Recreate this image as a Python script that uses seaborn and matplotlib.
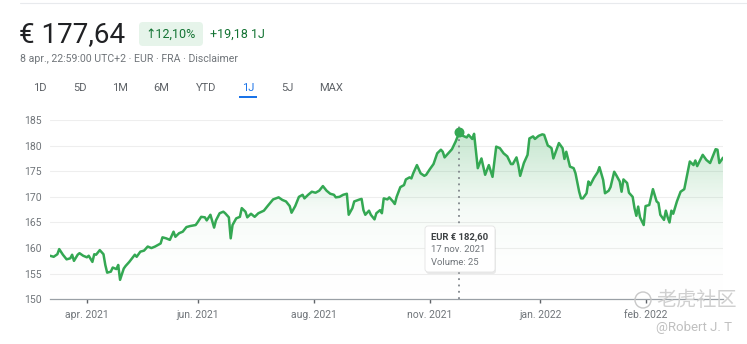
import matplotlib
matplotlib.use("Agg")
import matplotlib.pyplot as plt
import numpy as np
import pandas as pd
import seaborn as sns
from matplotlib.colors import LinearSegmentedColormap
from matplotlib.patches import FancyBboxPatch, Rectangle

# Data: day offset from start, closing price (EUR)
days = [0, 2, 4, 5, 7, 9, 11, 12, 13, 15, 16, 18, 20, 21, 23, 24, 25, 27, 29, 30,
        31, 33, 34, 36, 37, 38, 40, 41, 43, 46, 47, 49, 51, 53, 55, 57, 60, 61, 63, 65,
        67, 68, 70, 72, 74, 76, 79, 80, 82, 84, 85, 87, 89, 90, 92, 94, 95, 97, 98, 99,
        101, 103, 104, 106, 107, 109, 111, 113, 116, 118, 121, 124, 126, 128, 130, 131, 133, 135, 137, 138,
        140, 142, 144, 146, 148, 150, 152, 154, 155, 157, 159, 161, 162, 164, 165, 168, 169, 170, 171, 173,
        174, 176, 177, 179, 180, 181, 183, 184, 186, 187, 188, 190, 192, 193, 195, 196, 197, 199, 201, 203,
        204, 206, 208, 210, 212, 213, 214, 216, 218, 220, 222, 224, 226, 227, 229, 230, 232, 234, 236, 238,
        240, 242, 244, 246, 248, 250, 251, 253, 254, 255, 257, 259, 260, 262, 263, 265, 267, 268, 270, 271,
        272, 273, 275, 276, 278, 279, 280, 282, 284, 285, 287, 288, 289, 291, 292, 293, 295, 297, 298, 300,
        301, 303, 304, 306, 307, 309, 310, 311, 313, 314, 316, 317, 318, 319, 320, 322, 323, 325, 327, 329,
        330, 331, 333, 334, 335, 336, 337, 338, 340, 342, 344, 345, 347, 349, 350, 351, 353, 354, 356, 358,
        359, 361, 362, 363, 364, 365]
prices = [158.5, 158.3, 158.8, 159.8, 158.7, 157.8, 158.0, 158.7, 157.5, 158.7, 159.0, 158.5, 158.2, 158.5, 157.3, 158.8, 158.7, 159.6, 158.8, 156.7,
          155.2, 155.4, 156.2, 155.9, 156.7, 153.8, 156.0, 156.5, 157.3, 158.7, 158.3, 159.3, 159.5, 160.3, 160.0, 160.3, 160.9, 162.1, 161.9, 161.6,
          163.2, 162.2, 162.9, 163.2, 164.1, 164.3, 164.5, 165.0, 166.1, 166.0, 165.4, 166.5, 164.0, 165.4, 166.8, 167.1, 166.8, 166.0, 161.9, 164.5,
          165.8, 166.1, 167.8, 167.1, 166.0, 166.7, 166.1, 166.8, 167.3, 168.2, 169.5, 169.9, 169.4, 169.1, 168.2, 166.9, 168.2, 170.0, 170.4, 169.7,
          170.4, 171.0, 170.8, 171.2, 172.1, 171.2, 170.6, 170.4, 169.9, 170.0, 170.4, 170.6, 166.5, 167.8, 169.1, 169.5, 169.6, 167.4, 166.5, 167.3,
          166.5, 165.6, 166.8, 167.4, 166.8, 169.7, 169.5, 169.9, 169.1, 168.6, 170.0, 171.9, 172.3, 173.4, 173.8, 173.6, 174.6, 176.2, 174.6, 174.1,
          174.3, 175.4, 176.4, 178.5, 179.2, 178.8, 177.7, 178.5, 179.3, 180.8, 182.6, 181.9, 181.6, 182.1, 181.3, 182.3, 175.6, 177.5, 174.3, 176.2,
          173.9, 179.8, 179.5, 178.5, 177.9, 176.4, 176.4, 177.7, 176.2, 174.1, 176.6, 178.2, 181.4, 181.8, 181.3, 181.9, 182.2, 182.1, 180.0, 179.8,
          179.5, 177.5, 179.5, 180.5, 179.5, 177.4, 178.8, 175.9, 175.6, 174.6, 171.0, 169.7, 169.7, 170.7, 173.0, 172.3, 173.7, 174.8, 175.8, 173.3,
          170.7, 171.2, 171.9, 174.9, 174.3, 173.0, 171.0, 173.4, 172.7, 170.8, 170.0, 167.8, 166.3, 168.1, 166.0, 164.5, 168.2, 168.4, 171.5, 169.1,
          168.8, 166.5, 165.5, 167.3, 166.0, 165.0, 167.3, 166.7, 169.1, 171.0, 171.5, 173.3, 176.9, 176.2, 177.1, 176.0, 177.5, 178.2, 177.2, 176.6,
          177.5, 179.3, 179.2, 176.6, 177.1, 177.64]

tick_days = [20, 80, 143, 206, 266, 323]
tick_labels = ["apr. 2021", "jun. 2021", "aug. 2021", "nov. 2021", "jan. 2022", "feb. 2022"]
y_ticks = [150, 155, 160, 165, 170, 175, 180, 185]
ranges = ["1D", "5D", "1M", "6M", "YTD", "1J", "5J", "MAX"]
hover_day, hover_price = 222, 182.6

df = pd.DataFrame({"day": days, "price": prices})

sns.set_theme(style="white")
plt.rcParams["font.family"] = ["Roboto", "Noto Sans CJK SC", "DejaVu Sans"]

GREEN = "#34a853"
GRAY = "#70757a"

fig = plt.figure(figsize=(7.47, 3.44), dpi=100)
ax = fig.add_axes([50 / 747, 1 - 299.3 / 344, 673 / 747, 179.3 / 344])

# Gradient fill under the line
poly = ax.fill_between(df["day"], df["price"], 150, color="none", lw=0)
cmap = LinearSegmentedColormap.from_list("g", [(1, 1, 1, 0), (0.2, 0.66, 0.33, 0.05), (0.2, 0.66, 0.33, 0.32)])
grad = np.linspace(0, 1, 256).reshape(-1, 1)
im = ax.imshow(grad, extent=[0, 365, 150, 185], origin="lower", aspect="auto", cmap=cmap, zorder=1)
im.set_clip_path(poly.get_paths()[0], transform=ax.transData)

sns.lineplot(data=df, x="day", y="price", ax=ax, color=GREEN, linewidth=1.8, zorder=3)

ax.set_xlim(0, 365)
ax.set_ylim(150, 185)
ax.set_yticks(y_ticks)
for y in y_ticks[1:]:
    ax.axhline(y, color="#eeeeee", lw=0.8, zorder=0)
ax.set_xticks(tick_days)
ax.set_xticklabels(tick_labels)
ax.tick_params(axis="y", length=0, pad=6, labelsize=7.5, labelcolor=GRAY)
ax.tick_params(axis="x", length=3, width=1, color="#5f6368", direction="out", pad=5, labelsize=7.5, labelcolor=GRAY, bottom=True)
ax.set_xlabel("")
ax.set_ylabel("")
for s in ["top", "right", "left"]:
    ax.spines[s].set_visible(False)
ax.spines["bottom"].set_color("#9aa0a6")
ax.spines["bottom"].set_linewidth(0.9)

# Hover marker
ax.plot([hover_day, hover_day], [150, 184.5], ls=(0, (1, 2.5)), color="#80868b", lw=1.3, zorder=2)
ax.scatter([hover_day], [hover_price], s=38, color=GREEN, zorder=4)

# Overlay in pixel coordinates for header / tooltip / watermark
ov = fig.add_axes([0, 0, 1, 1], zorder=5)
ov.set_xlim(0, 747)
ov.set_ylim(344, 0)
ov.axis("off")
ov.patch.set_alpha(0)

ov.plot([20, 747], [3, 3], color="#e8eaed", lw=0.8)
ov.text(19, 35, "€ 177,64", fontsize=20, color="#202124", va="center", ha="left")
ov.add_patch(FancyBboxPatch((139, 22), 64, 24, boxstyle="round,pad=0,rounding_size=4",
                            fc="#e6f4ea", ec="none"))
ov.text(145, 34.5, "↑12,10%", fontsize=9, color="#137333", va="center", ha="left",
        family=["Roboto", "DejaVu Sans"])
ov.text(210, 34.5, "+19,18 1J", fontsize=9, color="#137333", va="center", ha="left")
ov.text(20, 58.5, "8 apr., 22:59:00 UTC+2 · EUR · FRA · Disclaimer", fontsize=7.6, color=GRAY,
        va="center", ha="left")

range_x = [40, 80, 120, 161, 206, 248, 287, 331]
for lbl, xx in zip(ranges, range_x):
    col = "#1a73e8" if lbl == "1J" else "#5f6368"
    ov.text(xx, 88, lbl, fontsize=8, color=col, va="center", ha="center")
ov.add_patch(Rectangle((239, 95.5), 18, 2, fc="#1a73e8", ec="none"))

# Tooltip
ov.add_patch(FancyBboxPatch((426, 228), 70, 46, boxstyle="round,pad=0,rounding_size=3",
                            fc="#000000", ec="none", alpha=0.08))
ov.add_patch(FancyBboxPatch((425, 226), 70, 46, boxstyle="round,pad=0,rounding_size=3",
                            fc="white", ec="#e3e3e3", lw=0.6))
ov.text(431, 236.5, "EUR € 182,60", fontsize=6.8, color="#3c4043", fontweight="bold", va="center")
ov.text(431, 249.5, "17 nov. 2021", fontsize=6.8, color=GRAY, va="center")
ov.text(431, 262.5, "Volume: 25", fontsize=6.8, color=GRAY, va="center")

# Watermark
ov.add_patch(plt.Circle((643, 300), 8, fc="none", ec="#c8c8c8", lw=1))
ov.text(656, 300, "老虎社区", fontsize=14.5, color="#d0d0d0", va="center", ha="left")
ov.text(656, 327, "@Robert J. T", fontsize=9.5, color="#c0c0c0", va="center", ha="left")

fig.savefig("out.png", dpi=100)
